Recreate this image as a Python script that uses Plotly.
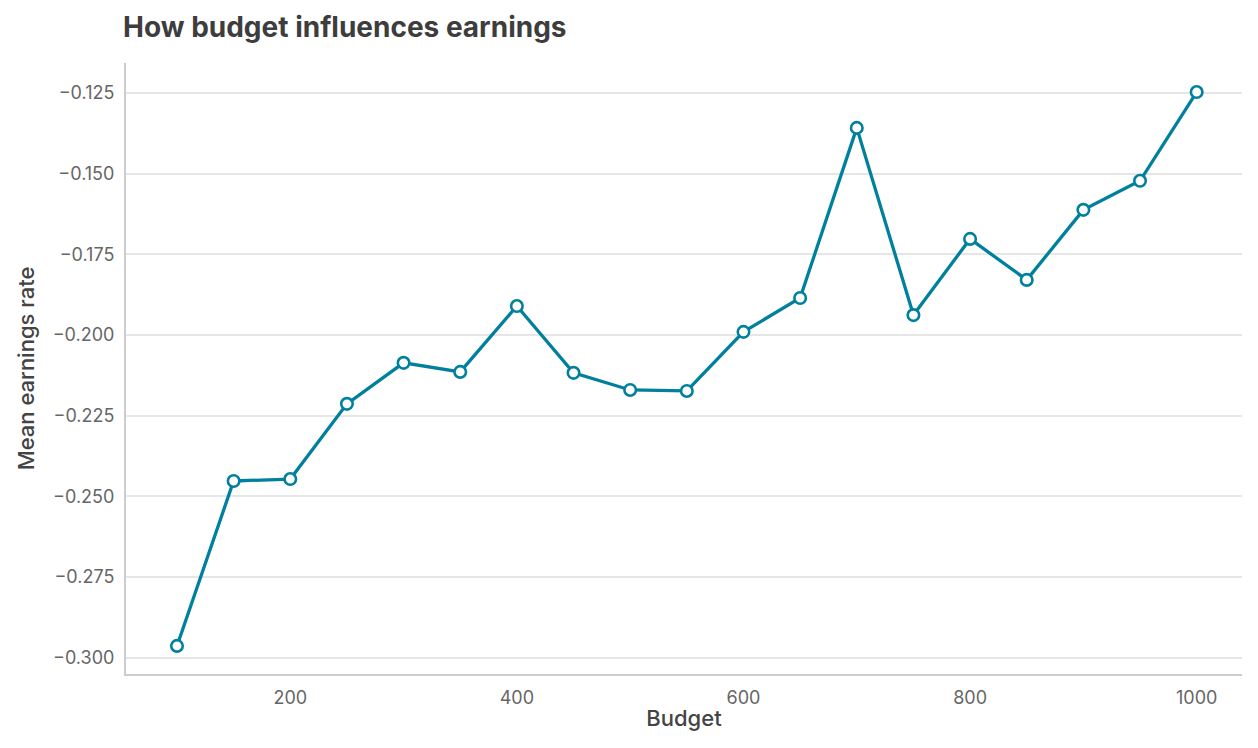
import plotly.graph_objects as go

budget = [100, 150, 200, 250, 300, 350, 400, 450, 500, 550,
          600, 650, 700, 750, 800, 850, 900, 950, 1000]
earnings = [-0.2963, -0.2452, -0.2446, -0.2213, -0.2086, -0.2114, -0.1910,
            -0.2117, -0.2170, -0.2173, -0.1990, -0.1885, -0.1358, -0.1938,
            -0.1702, -0.1829, -0.1612, -0.1522, -0.1247]

teal = "#00809D"

fig = go.Figure()
fig.add_trace(go.Scatter(
    x=budget, y=earnings, mode="lines+markers",
    line=dict(color=teal, width=3.3),
    marker=dict(size=11.5, color="white", line=dict(color=teal, width=2.6)),
))

# page body adds ~8px margin, so the figure is a bit smaller than the window
W, H = 1250, 740
fig.update_layout(
    width=W, height=H,
    paper_bgcolor="white", plot_bgcolor="white",
    font=dict(family="Inter, Roboto, sans-serif", size=18, color="#666"),
    margin=dict(l=118, r=16, t=55, b=74),
    showlegend=False,
    title=dict(text="<b>How budget influences earnings</b>", x=115 / W, xanchor="left",
               y=1 - 19 / H, yanchor="middle",
               font=dict(size=28, color="#3d3d3d")),
)
fig.update_xaxes(
    range=[55, 1040], tickvals=[200, 400, 600, 800, 1000],
    showgrid=False, zeroline=False,
    showline=True, linecolor="#ccc", linewidth=2,
    ticks="", ticklabelstandoff=6,
    title=dict(text="Budget", font=dict(size=22, color="#444", weight=500), standoff=4),
)
fig.update_yaxes(
    range=[-0.305, -0.1157], tickvals=[-0.3, -0.275, -0.25, -0.225, -0.2, -0.175, -0.15, -0.125],
    tickformat=".3f",
    showgrid=True, gridcolor="#e6e6e6", gridwidth=1.5, zeroline=False,
    showline=True, linecolor="#ccc", linewidth=2,
    ticks="", ticklabelstandoff=6,
    title=dict(text="Mean earnings rate", font=dict(size=22, color="#444", weight=500), standoff=12),
)

fig.write_html("out.html")
